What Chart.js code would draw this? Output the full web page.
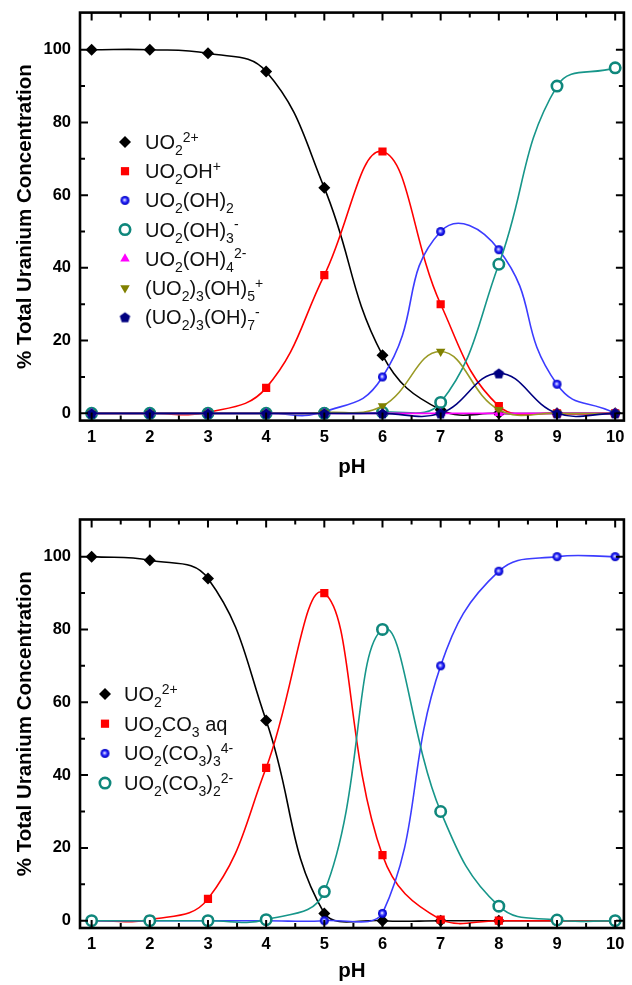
<!DOCTYPE html>
<html>
<head>
<meta charset="utf-8">
<script src="https://cdn.jsdelivr.net/npm/chart.js@4.4.1/dist/chart.umd.min.js"></script>
<style>
  html, body { margin: 0; padding: 0; background: #fff; }
  body { width: 632px; height: 985px; position: relative; overflow: hidden; }
  .panel { position: absolute; left: 0; width: 632px; }
  #hydrolysis-wrap { top: 0; height: 500px; }
  #carbonate-wrap { top: 500px; height: 485px; }
</style>
</head>
<body>
<div class="panel" id="hydrolysis-wrap"><canvas id="hydrolysis-chart"></canvas></div>
<div class="panel" id="carbonate-wrap"><canvas id="carbonate-chart"></canvas></div>
<script>
// pH grid and axis ticks (shared by both panels)
const phValues = [1, 2, 3, 4, 5, 6, 7, 8, 9, 10];
const xTickValues = [1, 2, 3, 4, 5, 6, 7, 8, 9, 10];
const yTickValues = [0, 20, 40, 60, 80, 100];

// Top panel - hydrolysis species (% of total U)
const uo2Ion = [100, 100, 99, 94, 62, 16, 1, 0, 0, 0];
const uo2OH = [0, 0, 0.3, 7, 38, 72, 30, 2, 0, 0];
const uo2OH2 = [0, 0, 0, 0, 0.5, 10, 50, 45, 8, 0];
const uo2OH3 = [0, 0, 0, 0, 0, 0.3, 3, 41, 90, 95];
const uo2OH4 = [0, 0, 0, 0, 0, 0, 0, 0, 0, 0];
const triOH5 = [0, 0, 0, 0, 0.2, 2, 17, 1, 0, 0];
const triOH7 = [0, 0, 0, 0, 0, 0, 0, 11, 0, 0];

// Bottom panel - carbonate species (% of total U)
const uo2IonC = [100, 99, 94, 55, 2, 0, 0, 0, 0, 0];
const uo2CO3 = [0, 0.3, 6, 42, 90, 18, 0.3, 0, 0, 0];
const uo2CO3x3 = [0, 0, 0, 0, 0, 2, 70, 96, 100, 100];
const uo2CO3x2 = [0, 0, 0, 0.3, 8, 80, 30, 4, 0.2, 0];

const FONT = "'Liberation Sans', Arial, sans-serif";
const tickFont = { family: FONT, size: 16.5, weight: 'bold' };
const titleFont = { family: FONT, size: 20.5, weight: 'bold' };

// little sprites for markers chart.js doesn't have
function ballImage(r) {
    const c = document.createElement('canvas');
    c.width = c.height = 2 * r + 2;
    const g = c.getContext('2d');
    const m = r + 1;
    const grad = g.createRadialGradient(m - 0.5, m - 0.5, 0.3, m, m, r);
    grad.addColorStop(0, '#f0f0ff');
    grad.addColorStop(0.3, '#6a6aff');
    grad.addColorStop(0.6, '#1818f0');
    grad.addColorStop(1, '#0000b8');
    g.fillStyle = grad;
    g.beginPath();
    g.arc(m, m, r, 0, Math.PI * 2);
    g.fill();
    return c;
}

function pentagonImage(r, color) {
    const c = document.createElement('canvas');
    c.width = c.height = 2 * r + 2;
    const g = c.getContext('2d');
    const m = r + 1;
    g.fillStyle = color;
    g.beginPath();
    for (let k = 0; k < 5; k++) {
        const a = -Math.PI / 2 + k * 2 * Math.PI / 5;
        const px = m + r * Math.cos(a), py = m + 0.5 + r * Math.sin(a);
        if (k === 0) g.moveTo(px, py); else g.lineTo(px, py);
    }
    g.closePath();
    g.fill();
    return c;
}

function series(label, values, style) {
    return Object.assign({
        label: label,
        data: phValues.map((x, i) => ({ x: x, y: values[i] })),
        borderWidth: 1.6,
        tension: 0.42,
        fill: false,
        pointBorderWidth: 0,
        pointRadius: 5.5,
        pointHoverRadius: 5.5
    }, style);
}

// labels use _x / ^x (or _{..} / ^{..}) for sub/superscripts
function parseRich(text) {
    const parts = [];
    let i = 0, buf = '';
    while (i < text.length) {
        const ch = text[i];
        if (ch === '_' || ch === '^') {
            if (buf) { parts.push({ t: buf, k: 'n' }); buf = ''; }
            let piece;
            if (text[i + 1] === '{') {
                const end = text.indexOf('}', i);
                piece = text.slice(i + 2, end);
                i = end + 1;
            } else {
                piece = text[i + 1];
                i += 2;
            }
            parts.push({ t: piece, k: ch === '_' ? 'sub' : 'sup' });
        } else {
            buf += ch;
            i++;
        }
    }
    if (buf) parts.push({ t: buf, k: 'n' });
    return parts;
}

function drawRichText(ctx, text, x, y) {
    parseRich(text).forEach(p => {
        let dy = 0;
        if (p.k === 'n') {
            ctx.font = "20px " + FONT;
        } else {
            ctx.font = "14px " + FONT;
            dy = p.k === 'sub' ? 6 : -7.5;
        }
        ctx.fillText(p.t, x, y + dy);
        x += ctx.measureText(p.t).width;
    });
}

const richLegend = {
    id: 'richLegend',
    afterDraw(chart, args, opts) {
        const ctx = chart.ctx;
        ctx.save();
        ctx.textBaseline = 'alphabetic';
        chart.data.datasets.forEach((ds, i) => {
            const y = opts.top + i * opts.spacing;
            ctx.fillStyle = ds.pointBackgroundColor;
            ctx.strokeStyle = ds.pointBorderColor || ds.pointBackgroundColor;
            ctx.lineWidth = ds.pointBorderWidth;
            Chart.helpers.drawPoint(ctx, {
                pointStyle: ds.pointStyle,
                rotation: ds.pointRotation || 0,
                radius: ds.pointRadius,
                borderWidth: ds.pointBorderWidth
            }, opts.markerX, y);
            ctx.fillStyle = '#111';
            drawRichText(ctx, ds.label, opts.textX, y + 7);
        });
        ctx.restore();
    }
};

// box frame with inward major/minor ticks, origin style
const framePlugin = {
    id: 'frame',
    afterDraw(chart) {
        const { ctx, chartArea: a, scales } = chart;
        const xs = scales.x, ys = scales.y;
        const xMinor = xTickValues.slice(0, -1).map((v, i) => (v + xTickValues[i + 1]) / 2);
        const yMinor = yTickValues.slice(0, -1).map((v, i) => (v + yTickValues[i + 1]) / 2);
        ctx.save();
        ctx.strokeStyle = '#000';
        ctx.lineWidth = 2;
        ctx.beginPath();
        const xMark = (v, len) => {
            const px = xs.getPixelForValue(v);
            ctx.moveTo(px, a.bottom); ctx.lineTo(px, a.bottom - len);
            ctx.moveTo(px, a.top); ctx.lineTo(px, a.top + len);
        };
        const yMark = (v, len) => {
            const py = ys.getPixelForValue(v);
            ctx.moveTo(a.left, py); ctx.lineTo(a.left + len, py);
            ctx.moveTo(a.right, py); ctx.lineTo(a.right - len, py);
        };
        xTickValues.forEach(v => xMark(v, 8));
        xMinor.forEach(v => xMark(v, 5));
        yTickValues.forEach(v => yMark(v, 8));
        yMinor.forEach(v => yMark(v, 5));
        ctx.stroke();
        ctx.lineWidth = 2.6;
        ctx.strokeRect(a.left, a.top, a.right - a.left, a.bottom - a.top);
        ctx.restore();
    }
};

// pin the axis boxes so the plot area lands where the figure has it
function pinX(h) {
    return s => { s.height = h; s.paddingLeft = 0; s.paddingRight = 0; s.paddingTop = 0; s.paddingBottom = 0; };
}
function pinY(w) {
    return s => { s.width = w; s.paddingLeft = 0; s.paddingRight = 0; s.paddingTop = 0; s.paddingBottom = 0; };
}

function makeOptions(axisHeight, padTop, pHPad, legend) {
    return {
        responsive: true,
        maintainAspectRatio: false,
        animation: false,
        layout: { padding: { top: padTop, right: 2, left: 0, bottom: 0 } },
        plugins: {
            legend: { display: false },
            tooltip: { enabled: false },
            richLegend: legend
        },
        scales: {
            x: {
                type: 'linear',
                min: 0.8,
                max: 10.15,
                afterBuildTicks: s => { s.ticks = xTickValues.map(v => ({ value: v })); },
                afterFit: pinX(axisHeight),
                grid: { display: false, drawTicks: false },
                border: { display: false },
                ticks: { font: tickFont, color: '#000', padding: 7, maxRotation: 0, autoSkip: false },
                title: { display: true, text: 'pH', font: titleFont, color: '#000', padding: { top: 0, bottom: pHPad } }
            },
            y: {
                type: 'linear',
                min: -2,
                max: 110.2,
                afterBuildTicks: s => { s.ticks = yTickValues.map(v => ({ value: v })); },
                afterFit: pinY(80),
                grid: { display: false, drawTicks: false },
                border: { display: false },
                ticks: { font: tickFont, color: '#000', padding: 9 },
                title: { display: true, text: '% Total Uranium Concentration', font: titleFont, color: '#000', padding: { top: 13, bottom: 0 } }
            }
        }
    };
}

function withOrder(list) {
    // later series are painted on top
    return list.map((ds, i) => Object.assign(ds, { order: list.length - 1 - i }));
}

const blueBall = ballImage(4.5);
const navyPent = pentagonImage(5.5, '#000080');

new Chart(document.getElementById('hydrolysis-chart'), {
    type: 'line',
    data: {
        datasets: withOrder([
            series('UO_2^{2+}', uo2Ion, { borderColor: '#000', pointBackgroundColor: '#000', pointStyle: 'rectRot', pointRadius: 6 }),
            series('UO_2OH^+', uo2OH, { borderColor: '#ff0000', pointBackgroundColor: '#ff0000', pointStyle: 'rect', pointRadius: 5.8 }),
            series('UO_2(OH)_2', uo2OH2, { borderColor: '#3c3cff', pointBackgroundColor: '#2020ff', pointStyle: blueBall, tension: 0.5 }),
            series('UO_2(OH)_3^-', uo2OH3, { borderColor: '#17968a', pointBackgroundColor: '#fff', pointBorderColor: '#0f877c', pointBorderWidth: 2.6, pointStyle: 'circle', pointRadius: 5.2 }),
            series('UO_2(OH)_4^{2-}', uo2OH4, { borderColor: '#ff00ff', pointBackgroundColor: '#ff00ff', pointStyle: 'triangle', pointRadius: 5.5 }),
            series('(UO_2)_3(OH)_5^+', triOH5, { borderColor: '#9a9a26', pointBackgroundColor: '#808000', pointStyle: 'triangle', pointRotation: 180, pointRadius: 5.5 }),
            series('(UO_2)_3(OH)_7^-', triOH7, { borderColor: '#000080', pointBackgroundColor: '#000080', pointStyle: navyPent })
        ])
    },
    options: makeOptions(79.4, 12.6, 20, { markerX: 125, textX: 145, top: 142, spacing: 29.2 }),
    plugins: [framePlugin, richLegend]
});

new Chart(document.getElementById('carbonate-chart'), {
    type: 'line',
    data: {
        datasets: withOrder([
            series('UO_2^{2+}', uo2IonC, { borderColor: '#000', pointBackgroundColor: '#000', pointStyle: 'rectRot', pointRadius: 6 }),
            series('UO_2CO_3 aq', uo2CO3, { borderColor: '#ff0000', pointBackgroundColor: '#ff0000', pointStyle: 'rect', pointRadius: 5.8 }),
            series('UO_2(CO_3)_3^{4-}', uo2CO3x3, { borderColor: '#3c3cff', pointBackgroundColor: '#2020ff', pointStyle: blueBall }),
            series('UO_2(CO_3)_2^{2-}', uo2CO3x2, { borderColor: '#17968a', pointBackgroundColor: '#fff', pointBorderColor: '#0f877c', pointBorderWidth: 2.6, pointStyle: 'circle', pointRadius: 5.2 })
        ])
    },
    options: makeOptions(57, 19.5, 1, { markerX: 105, textX: 124, top: 194, spacing: 29.7 }),
    plugins: [framePlugin, richLegend]
});
</script>
</body>
</html>
